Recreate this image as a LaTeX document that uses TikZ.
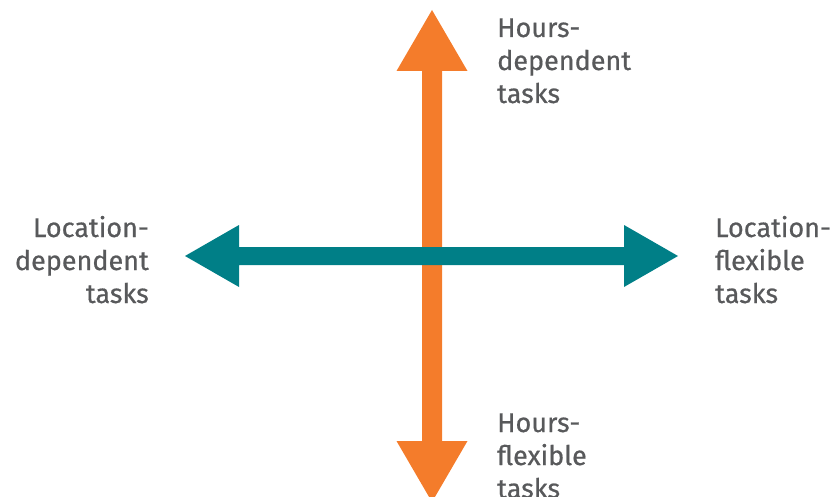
\documentclass[tikz,border=0pt]{standalone}
\usepackage{fontspec}
\setmainfont{Fira Sans}[UprightFeatures={FakeBold=0.6}]
\definecolor{arrorange}{HTML}{F47C2B}
\definecolor{arrteal}{HTML}{007F87}
\definecolor{labelgray}{HTML}{58595B}
\begin{document}
\begin{tikzpicture}[x=1pt,y=-1pt,
  lbl/.style={inner sep=0pt, text=labelgray, font=\fontsize{27}{33}\selectfont},
  lblL/.style={lbl, anchor=base west, align=left},
  lblR/.style={lbl, anchor=base east, align=right}]
\useasboundingbox (0,0) rectangle (835,497);
% vertical orange double arrow
\fill[arrorange] (432,10) -- (467.5,71) -- (442,71) -- (442,441) -- (467.5,441) -- (432,502)
  -- (396.5,441) -- (422,441) -- (422,71) -- (396.5,71) -- cycle;
% horizontal teal double arrow
\fill[arrteal] (185,256) -- (239,225) -- (239,247) -- (624,247) -- (624,225) -- (678,256)
  -- (624,287) -- (624,265) -- (239,265) -- (239,287) -- cycle;
\node[lblL] (hd) at (497,103) {Hours-\\dependent\\tasks};
\node[lblL] (hf) at (497,498) {Hours-\\flexible\\tasks};
\node[lblL] (lf) at (715,303) {Location-\\flexible\\tasks};
\node[lblR] (ld) at (149,303) {Location-\\dependent\\tasks};
\end{tikzpicture}
\end{document}
